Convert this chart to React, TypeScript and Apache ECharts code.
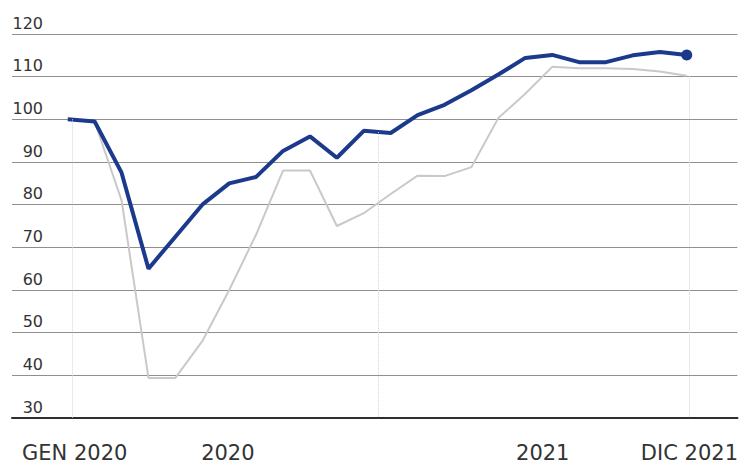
import React, { useEffect, useRef } from "react";
import * as echarts from "echarts";

// Monthly index, Jan 2020 .. Dec 2021 (24 points)
const months = [
  "2020-01", "2020-02", "2020-03", "2020-04", "2020-05", "2020-06",
  "2020-07", "2020-08", "2020-09", "2020-10", "2020-11", "2020-12",
  "2021-01", "2021-02", "2021-03", "2021-04", "2021-05", "2021-06",
  "2021-07", "2021-08", "2021-09", "2021-10", "2021-11", "2021-12",
];
const blueValues = [
  100, 99.5, 87.5, 65, 72.5, 80, 85, 86.5, 92.6, 96, 91, 97.3,
  96.8, 101, 103.4, 106.8, 110.5, 114.4, 115.1, 113.4, 113.4, 115, 115.8, 115.1,
];
const greyValues = [
  100, 99.5, 81, 39.4, 39.4, 48, 60, 73, 88, 88, 75, 78,
  82.5, 86.8, 86.7, 88.8, 100.3, 106, 112.3, 112, 112, 111.8, 111.2, 110.2,
];
const yTicks = [30, 40, 50, 60, 70, 80, 90, 100, 110, 120];
const xLabelPos = [0.26, 5.95, 17.65, 23.1];
const xLabelText = ["GEN 2020", "2020", "2021", "DIC 2021"];
// faint vertical drop lines: [x, top value]
const dropLines: [number, number][] = [
  [0.185, 100],
  [11.54, 97],
  [23.11, 110.2],
];

export default function App() {
  const ref = useRef<HTMLDivElement>(null);
  useEffect(() => {
    if (!ref.current) return;
    const chart = echarts.init(ref.current, null, { renderer: "svg" });
    const last = blueValues.length - 1;
    chart.setOption({
      animation: false,
      backgroundColor: "#ffffff",
      grid: { left: 12, right: 0, top: 34, bottom: 45 },
      xAxis: {
        type: "value",
        min: -2.071,
        max: 24.886,
        axisLine: { show: true, lineStyle: { color: "#2e2e2e", width: 2 } },
        axisTick: { show: false },
        splitLine: { show: false },
        axisLabel: {
          customValues: xLabelPos,
          margin: 24,
          fontFamily: "DejaVu Sans",
          fontSize: 21,
          color: "#333333",
          formatter: (v: number) => {
            let best = 0;
            for (let i = 0; i < xLabelPos.length; i++) {
              if (Math.abs(xLabelPos[i] - v) < Math.abs(xLabelPos[best] - v)) best = i;
            }
            return xLabelText[best];
          },
        },
      },
      yAxis: {
        type: "value",
        min: yTicks[0],
        max: yTicks[yTicks.length - 1],
        interval: 10,
        axisLine: { show: false },
        axisTick: { show: false },
        splitLine: { show: true, lineStyle: { color: "#8f8f8f", width: 1 } },
        axisLabel: {
          inside: true,
          align: "right",
          verticalAlign: "bottom",
          margin: 31,
          padding: [0, 0, 3, 0],
          fontFamily: "DejaVu Sans",
          fontSize: 16,
          color: "#333333",
        },
      },
      series: [
        {
          type: "line",
          name: "grey",
          data: greyValues.map((v, i) => [i, v]),
          symbol: "none",
          lineStyle: { color: "#c9c9c9", width: 2 },
          z: 2,
          markLine: {
            silent: true,
            symbol: "none",
            label: { show: false },
            lineStyle: { color: "#d4d4d4", width: 1, type: "dotted" },
            data: dropLines.map(([x, top]) => [
              { coord: [x, top] },
              { coord: [x, yTicks[0]] },
            ]),
          },
        },
        {
          type: "line",
          name: "blue",
          data: blueValues.map((v, i) => [i, v]),
          showSymbol: true,
          symbol: (_v: any, p: any) => (p.dataIndex === last ? "circle" : "none"),
          symbolSize: 11,
          itemStyle: { color: "#1b3a8c" },
          lineStyle: { color: "#1b3a8c", width: 4 },
          z: 3,
        },
      ],
    });
    return () => chart.dispose();
  }, []);
  return (
    <div
      ref={ref}
      style={{ position: "fixed", left: 0, top: 0, width: 741, height: 463 }}
    />
  );
}
